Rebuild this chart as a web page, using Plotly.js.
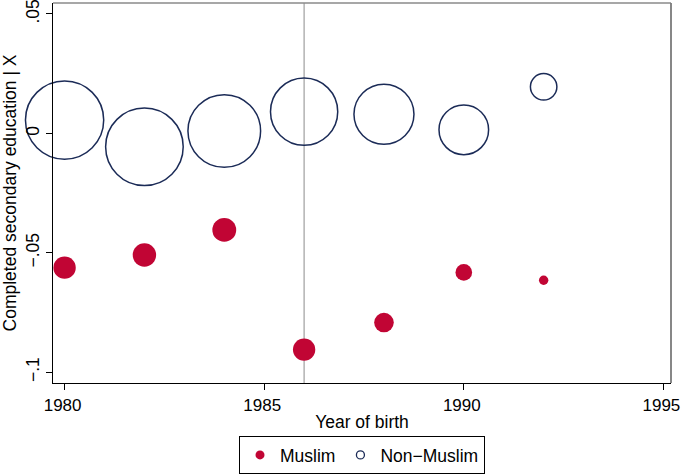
<!DOCTYPE html>
<html>
<head>
<meta charset="utf-8">
<script src="https://cdn.plot.ly/plotly-3.0.1.min.js"></script>
<style>html,body{margin:0;padding:0;background:#fff;}#chart{width:681px;height:475px;}</style>
</head>
<body>
<div id="chart"></div>
<script>
// Data
var years = [1980, 1982, 1984, 1986, 1988, 1990, 1992];
var muslim = [-0.0562, -0.0509, -0.0404, -0.0905, -0.0792, -0.0582, -0.0615];
var nonMuslim = [0.0056, -0.0056, 0.0010, 0.0091, 0.0080, 0.0015, 0.0195];
// bubble weights (marker area proportional to weight)
var muslimWeight = [125, 137, 142, 125, 96, 69, 22];
var nonMuslimWeight = [1530, 1505, 1320, 1130, 900, 615, 175];
var cutoffYear = 1986;
var xTickVals = [1980, 1985, 1990, 1995];
var yTickVals = [0.05, 0, -0.05, -0.1];
var yTickText = ['.05', '0', '\u2212.05', '\u2212.1'];

var red = '#c10534';
var navy = '#1b2b57';
var fontFam = 'Liberation Sans, Arial, Helvetica, sans-serif';

var traces = [
  {
    x: years, y: muslim, type: 'scatter', mode: 'markers', name: 'Muslim',
    showlegend: false, cliponaxis: false, hoverinfo: 'skip',
    marker: {color: red, opacity: 1, size: muslimWeight, sizemode: 'area', sizeref: 0.5, line: {width: 0}}
  },
  {
    x: years, y: nonMuslim, type: 'scatter', mode: 'markers', name: 'Non\u2212Muslim',
    showlegend: false, cliponaxis: false, hoverinfo: 'skip',
    marker: {color: 'rgba(255,255,255,0)', opacity: 1, size: nonMuslimWeight, sizemode: 'area', sizeref: 0.5,
             line: {color: navy, width: 1.5}}
  },
  {
    x: [null], y: [null], type: 'scatter', mode: 'markers', name: 'Muslim',
    marker: {color: red, opacity: 1, size: 9, line: {width: 0}}
  },
  {
    x: [null], y: [null], type: 'scatter', mode: 'markers', name: 'Non\u2212Muslim',
    marker: {color: 'rgba(255,255,255,0)', opacity: 1, size: 8, line: {color: navy, width: 1.3}}
  }
];

var layout = {
  width: 681, height: 475,
  margin: {l: 53, r: 10, t: 3, b: 92, autoexpand: false},
  paper_bgcolor: '#ffffff', plot_bgcolor: '#ffffff',
  font: {family: fontFam, size: 17.5, color: '#000'},
  showlegend: true,
  legend: {
    orientation: 'h', x: 0.5, xanchor: 'center', y: -0.1395, yanchor: 'top',
    bordercolor: '#000', borderwidth: 1, bgcolor: '#fff',
    font: {family: fontFam, size: 17.5, color: '#000'},
    itemclick: false, itemdoubleclick: false
  },
  xaxis: {
    range: [1979.71, 1995.19], tickvals: xTickVals, ticktext: xTickVals.map(String),
    showgrid: false, zeroline: false, showline: true, linecolor: '#000', linewidth: 1.3,
    ticks: 'outside', ticklen: 6, tickwidth: 1, tickcolor: '#000', ticklabeloverflow: 'allow',
    ticklabelshift: -2, tickfont: {family: fontFam, size: 17},
    title: {text: 'Year of birth', font: {family: fontFam, size: 17.5}, standoff: 2},
    fixedrange: true
  },
  yaxis: {
    range: [-0.1045, 0.0546], tickvals: yTickVals, ticktext: yTickText, tickangle: -90,
    showgrid: false, zeroline: false, showline: true, linecolor: '#000', linewidth: 1.3,
    ticks: 'outside', ticklen: 6, tickwidth: 1, tickcolor: '#000', ticklabeloverflow: 'allow',
    title: {text: 'Completed secondary education | X', font: {family: fontFam, size: 17.5}, standoff: 5},
    fixedrange: true
  },
  shapes: [
    {type: 'line', xref: 'x', yref: 'paper', x0: cutoffYear, x1: cutoffYear, y0: 0, y1: 1,
     line: {color: '#a6a6a6', width: 1.3}, layer: 'below'},
    {type: 'line', xref: 'paper', yref: 'paper', x0: 0, x1: 1, y0: 1, y1: 1,
     line: {color: '#8a8a8a', width: 1.3}, layer: 'below'},
    {type: 'line', xref: 'paper', yref: 'paper', x0: 1, x1: 1, y0: 0, y1: 1,
     line: {color: '#7a7a7a', width: 1.8}, layer: 'below'}
  ]
};

Plotly.newPlot('chart', traces, layout, {displayModeBar: false, staticPlot: true});
</script>
</body>
</html>
